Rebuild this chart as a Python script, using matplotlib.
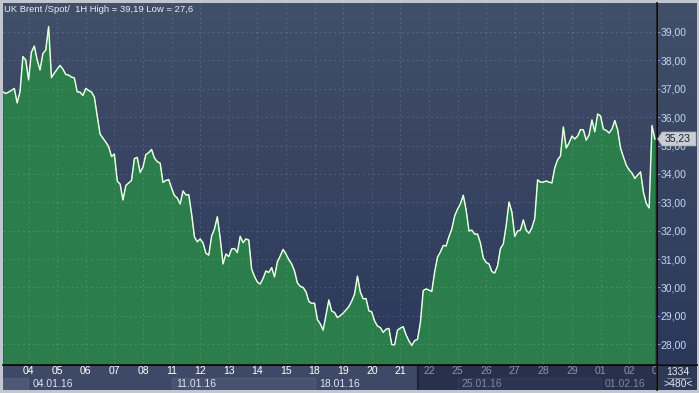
import numpy as np
import matplotlib
matplotlib.use("Agg")
import matplotlib.pyplot as plt
from matplotlib.patches import Rectangle, Polygon
from matplotlib.colors import LinearSegmentedColormap
from matplotlib.ticker import FuncFormatter
from matplotlib.lines import Line2D

plt.rcParams['font.family'] = ['Liberation Sans', 'DejaVu Sans']

# ---------------- data ----------------
price = [
    36.89, 36.83, 36.88, 36.94, 37.01, 36.50, 36.89, 38.13, 38.01, 37.31,
    38.29, 38.50, 38.01, 37.66, 38.24, 38.36, 39.19, 37.39, 37.55, 37.69,
    37.82, 37.69, 37.50, 37.48, 37.41, 37.38, 36.89, 36.88, 36.76, 37.01,
    36.94, 36.88, 36.71, 36.04, 35.40, 35.26, 35.12, 34.96, 34.61, 34.70,
    33.75, 33.64, 33.08, 33.59, 33.68, 33.77, 34.54, 34.58, 34.05, 34.24,
    34.68, 34.75, 34.86, 34.56, 34.43, 34.38, 33.70, 33.77, 33.80, 33.50,
    33.24, 33.15, 32.94, 33.40, 33.26, 33.27, 32.59, 31.78, 31.61, 31.71,
    31.57, 31.21, 31.14, 31.81, 32.06, 32.49, 31.74, 30.83, 31.18, 31.09,
    31.36, 31.37, 31.23, 31.80, 31.58, 31.71, 31.67, 30.65, 30.39, 30.19,
    30.12, 30.32, 30.58, 30.53, 30.70, 30.37, 30.90, 31.11, 31.34, 31.18,
    30.98, 30.83, 30.58, 30.16, 30.04, 30.00, 29.85, 29.51, 29.44, 29.45,
    28.87, 28.72, 28.50, 29.03, 29.56, 29.17, 29.12, 28.94, 29.01, 29.10,
    29.21, 29.33, 29.52, 29.77, 30.40, 29.84, 29.60, 29.61, 29.18, 29.14,
    28.82, 28.64, 28.59, 28.42, 28.53, 28.56, 27.99, 27.98, 28.50, 28.57,
    28.62, 28.33, 28.12, 27.96, 28.13, 28.17, 28.75, 29.89, 29.95, 29.91,
    29.86, 30.55, 31.07, 31.25, 31.48, 31.46, 31.79, 32.06, 32.52, 32.76,
    32.94, 33.25, 32.73, 31.99, 32.02, 31.88, 31.88, 31.57, 31.04, 30.88,
    30.83, 30.56, 30.51, 30.76, 31.37, 31.53, 32.17, 33.01, 32.66, 31.80,
    31.99, 32.02, 32.38, 32.02, 31.91, 32.10, 32.43, 33.79, 33.71, 33.71,
    33.75, 33.71, 33.68, 34.21, 34.50, 34.63, 35.65, 34.91, 35.09, 35.33,
    35.23, 35.33, 35.56, 35.55, 35.19, 35.37, 35.90, 35.48, 36.11, 36.04,
    35.58, 35.53, 35.44, 35.58, 35.88, 35.55, 34.91, 34.60, 34.31, 34.14,
    34.03, 33.84, 33.96, 34.07, 33.36, 32.96, 32.80, 35.70, 35.23,
]
t_start = -0.9       # trading days relative to 04.01.16
t_step = 0.1
day_labels = ['04', '05', '06', '07', '08', '11', '12', '13', '14', '15',
              '18', '19', '20', '21', '22', '25', '26', '27', '28', '29',
              '01', '02', '04']
week_labels = ['04.01.16', '11.01.16', '18.01.16', '25.01.16', '01.02.16']
week_starts = [0, 5, 10, 15, 20]
y_ticks = list(range(28, 40))
title = "UK Brent /Spot/  1H High = 39,19 Low = 27,6"
last_value = 35.23
footer_top = "1334"
footer_bottom = ">480<"

t = t_start + t_step * np.arange(len(price))

# ---------------- layout ----------------
W, H = 699, 393
fig = plt.figure(figsize=(W / 100, H / 100), dpi=100, facecolor='#c2c6ce')


def fx(px):
    return px / W


def fy(py):
    return 1 - py / H


xlim = (-0.895, 21.94)
ylim = (27.306, 40.018)
grad = np.linspace(0, 1, 256).reshape(-1, 1)
bg_cmap = LinearSegmentedColormap.from_list('bg', ['#424f69', '#2c385a'])

# right price panel (drawn first so the tick labels sit above it)
axr = fig.add_axes([fx(657), fy(364), fx(697) - fx(657), fy(3) - fy(364)])
axr.imshow(grad, aspect='auto', cmap=bg_cmap, extent=[0, 1, 0, 1])
axr.set_axis_off()

# main plot
ax = fig.add_axes([fx(3), fy(364), fx(656) - fx(3), fy(3) - fy(364)])
ax.imshow(grad, aspect='auto', cmap=bg_cmap, extent=[0, 1, 0, 1],
          transform=ax.transAxes, zorder=0)
ax.fill_between(t, ylim[0], price, color='#2b7d4b', lw=0, zorder=2)
for y in y_ticks:
    ax.axhline(y, color=(1, 1, 1, 0.14), lw=0.7, ls=(0, (2, 3)), zorder=3)
for d in range(0, 22):
    ax.axvline(d, color=(1, 1, 1, 0.14), lw=0.7, ls=(0, (2, 3)), zorder=3)
ax.plot(t, price, color='#b4f2ae', lw=1.1, zorder=4)
ax.plot(t, price, color='#ffffff', lw=0.55, zorder=5)
ax.set_xlim(*xlim)
ax.set_ylim(*ylim)
ax.set_yticks(y_ticks)
ax.yaxis.tick_right()
ax.yaxis.set_major_formatter(FuncFormatter(lambda v, _: f"{v:.2f}".replace('.', ',')))
ax.tick_params(axis='y', direction='out', length=3, width=0.8, color='#5b9cf2',
               labelcolor='#c6d7f2', labelsize=7.5, pad=0.5)
ax.tick_params(axis='x', bottom=False, labelbottom=False)
for s in ax.spines.values():
    s.set_visible(False)

# bottom date strip
axb = fig.add_axes([fx(3), fy(390), fx(656) - fx(3), fy(365) - fy(390)])
axb.set_xlim(*xlim)
axb.set_ylim(0, 2)
axb.set_axis_off()
sep = 13.62
axb.add_patch(Rectangle((xlim[0], 0), sep - xlim[0], 2, color='#3d4966', lw=0))
axb.add_patch(Rectangle((sep, 0), xlim[1] - sep, 2, color='#27314b', lw=0))
# week boxes (second row)
axb.add_patch(Rectangle((xlim[0], 0.04), -xlim[0] - 0.03, 0.92, facecolor='#4c5874',
                        edgecolor='#56627e', lw=0.6))
axb.add_patch(Rectangle((5, 0.04), 5, 0.92, facecolor='#46526e',
                        edgecolor='#56627e', lw=0.6))
axb.add_patch(Rectangle((15, 0.04), 5, 0.92, facecolor='#2b3551',
                        edgecolor='#36405c', lw=0.6))
axb.plot([sep, sep], [0, 2], color='#1d2436', lw=1.6)
for i, lab in enumerate(day_labels):
    col = '#ffffff' if i <= 13 else '#8a94a9'
    axb.text(i, 1.5, lab, ha='center', va='center', fontsize=7.5, color=col,
             clip_on=True)
for ws, lab in zip(week_starts, week_labels):
    col = '#dfe6f2' if ws < 14 else '#7f899e'
    axb.text(ws + 0.15, 0.5, lab, ha='left', va='center', fontsize=7.5, color=col,
             clip_on=True)

# separators
fig.add_artist(Line2D([fx(656.5), fx(656.5)], [fy(3), fy(390)], color='black',
                      lw=1.2, transform=fig.transFigure))
fig.add_artist(Line2D([fx(3), fx(697)], [fy(364.5), fy(364.5)], color='black',
                      lw=1.2, transform=fig.transFigure))

# bottom-right box
fig.add_artist(Rectangle((fx(657.2), fy(390)), fx(697) - fx(657.2), fy(365) - fy(390),
                         color='#2e3955', lw=0, transform=fig.transFigure))
fig.text(fx(678), fy(372), footer_top, ha='center', va='center', fontsize=7.5,
         color='#e3e8f2')
fig.text(fx(678), fy(384), footer_bottom, ha='center', va='center', fontsize=7.5,
         color='#e3e8f2')
fig.add_artist(Line2D([fx(667), fx(690)], [fy(378), fy(378)], color='#8391a9',
                      lw=0.6, transform=fig.transFigure))

# last value marker
ly = ax.transData.transform((0, last_value))[1]
ly_fig = fig.transFigure.inverted().transform((0, ly))[1]
hh = 7 / H
poly = Polygon([(fx(657.5), ly_fig), (fx(662), ly_fig + hh), (fx(696), ly_fig + hh),
                (fx(696), ly_fig - hh), (fx(662), ly_fig - hh)], closed=True,
               facecolor='#c9cdd5', edgecolor='#9aa0aa', lw=0.5,
               transform=fig.transFigure, zorder=10)
fig.add_artist(poly)
fig.text(fx(677.5), ly_fig, f"{last_value:.2f}".replace('.', ','), ha='center',
         va='center', fontsize=7.5, color='#1c1f2a', zorder=11)

# title
fig.text(fx(4.5), fy(9), title, ha='left', va='center', fontsize=6.8,
         color='#e8ecf5')

fig.savefig('out.png', dpi=100, facecolor=fig.get_facecolor())
